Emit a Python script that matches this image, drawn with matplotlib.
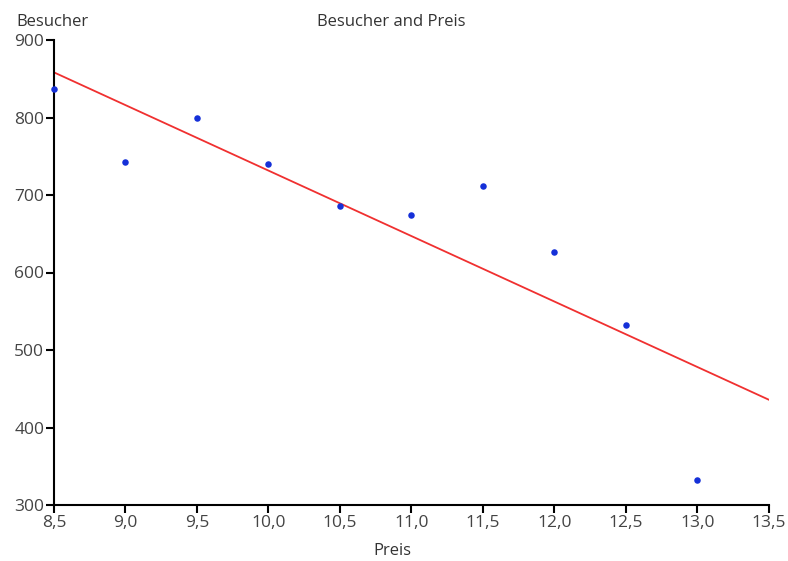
import numpy as np
import matplotlib
matplotlib.use('Agg')
import matplotlib.pyplot as plt

# data
preis = [8.5, 9.0, 9.5, 10.0, 10.5, 11.0, 11.5, 12.0, 12.5, 13.0]
besucher = [837, 742, 799, 740, 686, 674, 712, 627, 532, 332]

x_ticks = [8.5, 9.0, 9.5, 10.0, 10.5, 11.0, 11.5, 12.0, 12.5, 13.0, 13.5]
x_tick_labels = ['8,5', '9,0', '9,5', '10,0', '10,5', '11,0', '11,5', '12,0', '12,5', '13,0', '13,5']
y_ticks = [300, 400, 500, 600, 700, 800, 900]

plt.rcParams['font.family'] = ['Open Sans', 'DejaVu Sans']

fig = plt.figure(figsize=(7.88, 5.61), dpi=100)
ax = fig.add_axes([54/788, 1 - 505/561, (769 - 54)/788, (505 - 40)/561])

# regression line
m, b = np.polyfit(preis, besucher, 1)
xl = np.array([x_ticks[0], x_ticks[-1]])
ax.plot(xl, m * xl + b, color='#f03030', lw=1.3, zorder=2)

ax.scatter(preis, besucher, s=22, color='#1530d8', zorder=3, clip_on=False, linewidths=0)

ax.set_xlim(8.5, 13.5)
ax.set_ylim(300, 900)
ax.set_xticks(x_ticks)
ax.set_xticklabels(x_tick_labels)
ax.set_yticks(y_ticks)

for s in ['top', 'right']:
    ax.spines[s].set_visible(False)
for s in ['left', 'bottom']:
    ax.spines[s].set_linewidth(1.5)
    ax.spines[s].set_color('black')
ax.tick_params(length=6, width=1.5, labelsize=12.5, labelcolor='#444444', pad=1)

fig.text(391/788, 1 - 22/561, 'Besucher and Preis', ha='center', va='center', fontsize=12, color='#333333')
fig.text(52/788, 1 - 22/561, 'Besucher', ha='center', va='center', fontsize=12, color='#333333')
fig.text(392/788, 1 - 551/561, 'Preis', ha='center', va='center', fontsize=12, color='#333333')

fig.savefig('out.png', dpi=100)
